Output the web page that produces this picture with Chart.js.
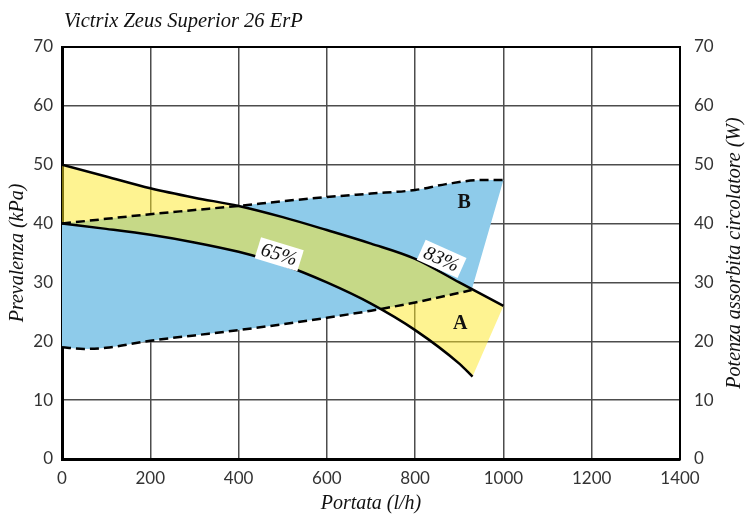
<!DOCTYPE html>
<html>
<head>
<meta charset="utf-8">
<script src="https://cdn.jsdelivr.net/npm/chart.js@4.4.1/dist/chart.umd.min.js"></script>
<style>
  html, body { margin: 0; padding: 0; background: #fff; }
</style>
</head>
<body>
<canvas id="chart" width="746" height="514"></canvas>
<script>
// portata (l/h) / prevalenza (kPa)
const flowPumpMax = [0, 100, 200, 300, 400, 500, 600, 700, 800, 900, 1000];
const headPumpMax = [50, 48.0, 46.0, 44.4, 43.0, 41.1, 38.9, 36.6, 34.0, 30.0, 26.0];

const flowPumpMin = [0, 100, 200, 300, 400, 500, 600, 700, 800, 900, 930];
const headPumpMin = [40, 39.1, 38.1, 36.8, 35.2, 33.0, 30.0, 26.4, 21.9, 16.2, 14.0];

// potenza assorbita (W)
const flowPowerMax = [0, 100, 200, 300, 400, 500, 600, 700, 800, 870, 950, 1000];
const powerMax = [40, 40.8, 41.6, 42.3, 43.0, 43.8, 44.5, 45.1, 45.7, 46.7, 47.4, 47.4];

const flowPowerMin = [0, 50, 100, 200, 300, 400, 500, 600, 700, 800, 928];
const powerMin = [19.0, 18.7, 18.9, 20.1, 21.0, 21.9, 22.9, 24.0, 25.2, 26.6, 28.7];

const xTicks = [0, 200, 400, 600, 800, 1000, 1200, 1400];
const yTicks = [0, 10, 20, 30, 40, 50, 60, 70];

const curveTags = [
  { text: '65%', x: 492, y: 34.8, angle: 17 },
  { text: '83%', x: 860, y: 34.0, angle: 24 }
];
const areaTags = [
  { text: 'A', x: 902, y: 23.0 },
  { text: 'B', x: 911, y: 43.5 }
];

const pts = (xs, ys) => xs.map((x, i) => ({ x: x, y: ys[i] }));
const serif = '"Liberation Serif", "DejaVu Serif", serif';
const sans = 'Lato, "DejaVu Sans", sans-serif';

function curve(data, dashed) {
  return {
    data: data,
    borderColor: '#000',
    borderWidth: 2.5,
    borderDash: dashed ? [9, 5] : [],
    pointRadius: 0,
    cubicInterpolationMode: 'monotone',
    fill: false
  };
}

// blue band between the power curves, yellow band between the pump curves
const regions = {
  id: 'regions',
  beforeDatasetsDraw(chart) {
    const ctx = chart.ctx, area = chart.chartArea;
    const line = i => {
      const el = chart.getDatasetMeta(i).dataset;
      el.updateControlPoints(area, 'x');
      return el;
    };
    const band = (top, bottom, color) => {
      ctx.beginPath();
      top.pathSegment(ctx, top.segments[0]);
      bottom.pathSegment(ctx, bottom.segments[0], { move: false, reverse: true });
      ctx.closePath();
      ctx.fillStyle = color;
      ctx.fill();
    };
    ctx.save();
    ctx.beginPath();
    ctx.rect(area.left, area.top, area.right - area.left, area.bottom - area.top);
    ctx.clip();
    band(line(2), line(3), '#8ecbea');
    band(line(0), line(1), 'rgba(253,231,35,0.5)');
    ctx.restore();
  }
};

const notes = {
  id: 'notes',
  afterDatasetsDraw(chart) {
    const { ctx, scales: { x, y } } = chart;
    ctx.save();
    ctx.textAlign = 'center';
    ctx.textBaseline = 'middle';
    curveTags.forEach(t => {
      ctx.save();
      ctx.translate(x.getPixelForValue(t.x), y.getPixelForValue(t.y));
      ctx.rotate(t.angle * Math.PI / 180);
      ctx.font = 'italic 20px ' + serif;
      const w = ctx.measureText(t.text).width + 8;
      ctx.fillStyle = '#fff';
      ctx.fillRect(-w / 2, -11, w, 22);
      ctx.fillStyle = '#111';
      ctx.fillText(t.text, 0, 1);
      ctx.restore();
    });
    ctx.font = 'bold 20px ' + serif;
    ctx.fillStyle = '#111';
    areaTags.forEach(t => {
      ctx.fillText(t.text, x.getPixelForValue(t.x), y.getPixelForValue(t.y));
    });
    ctx.restore();
  },
  afterDraw(chart) {
    const ctx = chart.ctx;
    ctx.save();
    ctx.fillStyle = '#111';
    ctx.font = 'italic 20.5px ' + serif;
    ctx.textAlign = 'left';
    ctx.textBaseline = 'alphabetic';
    ctx.fillText('Victrix Zeus Superior 26 ErP', 64, 27);
    ctx.font = 'italic 20px ' + serif;
    ctx.translate(735, 253);
    ctx.rotate(-Math.PI / 2);
    ctx.textAlign = 'center';
    ctx.textBaseline = 'middle';
    ctx.fillText('Potenza assorbita circolatore (W)', 0, 0);
    ctx.restore();
  }
};

const edgeFree = (edges, color) => c => (c.tick && edges.includes(c.tick.value)) ? 'rgba(0,0,0,0)' : color;
const plain = v => String(v);

new Chart(document.getElementById('chart'), {
  type: 'line',
  data: {
    datasets: [
      curve(pts(flowPumpMax, headPumpMax), false),
      curve(pts(flowPumpMin, headPumpMin), false),
      curve(pts(flowPowerMax, powerMax), true),
      curve(pts(flowPowerMin, powerMin), true)
    ]
  },
  plugins: [regions, notes],
  options: {
    responsive: false,
    animation: false,
    layout: { padding: { top: 47, left: 0, right: 0, bottom: 0 } },
    plugins: { legend: { display: false }, tooltip: { enabled: false } },
    scales: {
      x: {
        type: 'linear', position: 'bottom', min: 0, max: 1400,
        afterBuildTicks: s => { s.ticks = xTicks.map(v => ({ value: v })); },
        afterFit: s => { s.height = 55; },
        grid: { color: edgeFree([0, 1400], '#4d4d4d'), lineWidth: 1.5, drawTicks: false },
        border: { color: '#000', width: 3 },
        ticks: { padding: 9, color: '#333', font: { family: sans, size: 17 }, callback: plain },
        title: {
          display: true, text: 'Portata (l/h)', color: '#111',
          font: { family: serif, size: 20, style: 'italic', lineHeight: 1 },
          padding: { top: 0, bottom: 0 }
        }
      },
      xTop: {
        type: 'linear', position: 'top', min: 0, max: 1400,
        afterFit: s => { s.height = 0; },
        grid: { display: false, drawTicks: false },
        border: { color: '#000', width: 2 },
        ticks: { display: false }
      },
      y: {
        type: 'linear', position: 'left', min: 0, max: 70,
        afterBuildTicks: s => { s.ticks = yTicks.map(v => ({ value: v })); },
        afterFit: s => { s.width = 62; },
        grid: { color: edgeFree([0, 70], '#4d4d4d'), lineWidth: 1.5, drawTicks: false },
        border: { color: '#000', width: 3 },
        ticks: { padding: 9, color: '#333', font: { family: sans, size: 17 }, callback: plain },
        title: {
          display: true, text: 'Prevalenza (kPa)', color: '#111',
          font: { family: serif, size: 20, style: 'italic', lineHeight: 1 },
          padding: { top: 8, bottom: 0 }
        }
      },
      yRight: {
        type: 'linear', position: 'right', min: 0, max: 70,
        afterBuildTicks: s => { s.ticks = yTicks.map(v => ({ value: v })); },
        afterFit: s => { s.width = 66; },
        grid: { display: false, drawTicks: false },
        border: { color: '#000', width: 2 },
        ticks: { padding: 14, color: '#333', font: { family: sans, size: 17 }, callback: plain }
      }
    }
  }
});
</script>
</body>
</html>
